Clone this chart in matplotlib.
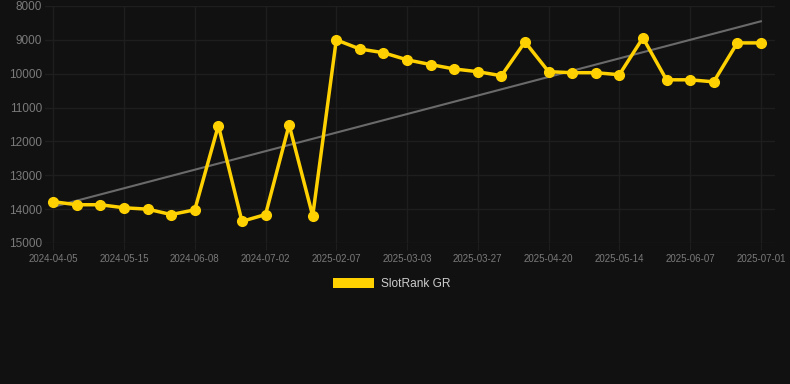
import numpy as np
import matplotlib
matplotlib.use('Agg')
import matplotlib.pyplot as plt
from matplotlib.patches import Patch

# 排名数据（数值越小越好，y 轴倒置）
tick_labels = ['2024-04-05', '2024-05-15', '2024-06-08', '2024-07-02', '2025-02-07',
               '2025-03-03', '2025-03-27', '2025-04-20', '2025-05-14', '2025-06-07',
               '2025-07-01']
rank = [13780, 13870, 13870, 13960, 14000, 14160, 14020, 11530, 14360, 14160,
        11510, 14200, 9000, 9270, 9380, 9590, 9730, 9860, 9940, 10060,
        9060, 9940, 9970, 9970, 10030, 8940, 10180, 10180, 10240, 9090,
        9090]
series_name = 'SlotRank GR'

plt.rcParams['font.family'] = ['Liberation Sans', 'DejaVu Sans']

bg = '#111111'
fig = plt.figure(figsize=(7.9, 3.84), dpi=100, facecolor=bg)
ax = fig.add_axes([45 / 790, 1 - 243 / 384, (775 - 45) / 790, (243 - 6) / 384])
ax.set_facecolor(bg)

x = np.arange(len(rank))
# 趋势线（线性拟合）
k, b = np.polyfit(x, rank, 1)
ax.plot(x, k * x + b, color='#6a6a6a', lw=1.5, zorder=2)
ax.plot(x, rank, color='#FFD100', lw=2.5, marker='o', ms=7, zorder=3)

ax.set_ylim(15000, 8000)
ax.set_yticks(range(8000, 15001, 1000))
ax.set_xlim(-0.35, len(rank) - 1 + 0.6)
ax.set_xticks(x[::3])
ax.set_xticklabels(tick_labels)

ax.grid(True, color='#1e1e1e', lw=1)
for s in ax.spines.values():
    s.set_visible(False)
ax.tick_params(axis='y', length=0, labelsize=8.5, labelcolor='#7a7a7a', pad=2)
ax.tick_params(axis='x', length=5, color='#1e1e1e', labelsize=7, labelcolor='#7a7a7a', pad=3)

leg = fig.legend(handles=[Patch(facecolor='#FFD100', label=series_name)],
                 loc='center', bbox_to_anchor=(392 / 790, 1 - 284 / 384), frameon=False,
                 handlelength=3.4, handleheight=0.9, handletextpad=0.6,
                 fontsize=8.6, labelcolor='#cccccc')

fig.savefig('out.png', dpi=100, facecolor=bg)
